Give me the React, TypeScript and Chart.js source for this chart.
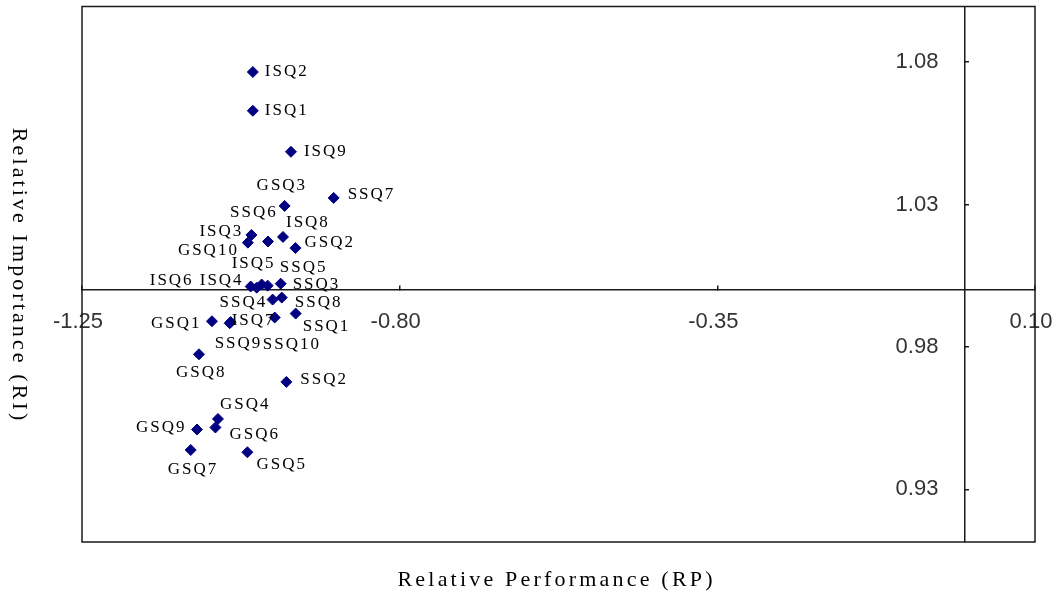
import React, { useEffect, useRef } from "react";
import { Chart, registerables } from "chart.js";

Chart.register(...registerables);

// ---- data ----
const itemLabels = [
  "ISQ1", "ISQ2", "ISQ3", "ISQ4", "ISQ5", "ISQ6", "ISQ7", "ISQ8", "ISQ9",
  "SSQ1", "SSQ2", "SSQ3", "SSQ4", "SSQ5", "SSQ6", "SSQ7", "SSQ8", "SSQ9", "SSQ10",
  "GSQ1", "GSQ2", "GSQ3", "GSQ4", "GSQ5", "GSQ6", "GSQ7", "GSQ8", "GSQ9", "GSQ10",
];

const relativePerformance = [
  -1.008, -1.008, -1.010, -1.0025, -0.9955, -1.011, -1.0408, -0.9653, -0.954,
  -0.9473, -0.9605, -0.987, -0.980, -0.9685, -0.9865, -0.8935, -0.967, -1.0394, -0.977,
  -1.0659, -0.9477, -0.963, -1.0574, -1.0157, -1.061, -1.096, -1.0843, -1.0871, -1.015,
];

const relativeImportance = [
  1.0629, 1.0765, 1.0193, 1.0008, 1.0019, 1.0012, 0.9883, 1.0186, 1.0485,
  0.9917, 0.9677, 1.0015, 0.9966, 1.0022, 1.0170, 1.0323, 0.9973, 0.9887, 0.9903,
  0.9890, 1.0147, 1.0295, 0.9547, 0.9430, 0.9517, 0.9438, 0.9774, 0.9510, 1.0166,
];

const xTickValues = [-1.25, -0.8, -0.35, 0.1];
const yTickValues = [0.93, 0.98, 1.03, 1.08];

const xTitle = "Relative Performance (RP)";
const yTitle = "Relative Importance (RI)";

// ---- presentation: where each point's label sits relative to its marker (px) ----
const labelPlacement: [number, number][] = [
  [12, 0], [12, 0], [-52, -3], [-57, -7], [-30, -21], [-101, -6], [2, -3], [3, -14], [13, 0],
  [7, 13], [14, -2], [25, -1], [-53, 3], [-1, -16], [-38, -29], [14, -3], [13, 5], [-16, 21], [-12, 27],
  [-61, 2], [9, -6], [-28, -20], [2, -14], [9, 12], [14, 7], [-23, 20], [-23, 18], [-61, -2], [-70, 8],
];

const AXIS_COLOR = "#1a1a1a";
const MARKER_COLOR = "#000080";
const TICK_FONT = '22px "Liberation Sans"';

function drawSpacedText(
  ctx: CanvasRenderingContext2D,
  text: string,
  cx: number,
  cy: number,
  spacing: number
) {
  (ctx as any).letterSpacing = spacing + "px";
  const w = ctx.measureText(text).width - spacing;
  ctx.textAlign = "left";
  ctx.textBaseline = "middle";
  ctx.fillText(text, cx - w / 2, cy);
}

export default function App() {
  const ref = useRef<HTMLCanvasElement>(null);

  useEffect(() => {
    const canvas = ref.current;
    if (!canvas) return;

    const points = itemLabels.map((_, i) => ({
      x: relativePerformance[i],
      y: relativeImportance[i],
    }));

    const overlay = {
      id: "overlay",
      afterDatasetsDraw(chart: any) {
        const ctx: CanvasRenderingContext2D = chart.ctx;
        const meta = chart.getDatasetMeta(0);
        ctx.save();
        ctx.font = '17px "Liberation Serif"';
        ctx.fillStyle = "#000";
        ctx.textAlign = "left";
        ctx.textBaseline = "middle";
        (ctx as any).letterSpacing = "2px";
        meta.data.forEach((el: any, i: number) => {
          const [dx, dy] = labelPlacement[i];
          ctx.fillText(itemLabels[i], el.x + dx, el.y + dy);
        });
        ctx.restore();
      },
      afterDraw(chart: any) {
        const ctx: CanvasRenderingContext2D = chart.ctx;
        const a = chart.chartArea;
        const xs = chart.scales.x;
        const ys = chart.scales.y;
        ctx.save();
        ctx.strokeStyle = AXIS_COLOR;
        ctx.lineWidth = 1.5;
        ctx.strokeRect(a.left, a.top, a.right - a.left, a.bottom - a.top);

        // y tick labels, left of the vertical axis that crosses at RP = 0
        const axisX = xs.getPixelForValue(0);
        ctx.font = TICK_FONT;
        ctx.fillStyle = "#333";
        ctx.textAlign = "right";
        ctx.textBaseline = "middle";
        ys.ticks.forEach((t: any) => {
          ctx.fillText(Number(t.value).toFixed(2), axisX - 26, ys.getPixelForValue(t.value));
        });

        ctx.fillStyle = "#000";
        ctx.font = '22px "Liberation Serif"';
        drawSpacedText(ctx, xTitle, 555, 580, 3.2);

        ctx.translate(19, 274);
        ctx.rotate(Math.PI / 2);
        drawSpacedText(ctx, yTitle, 0, 0, 3.1);
        ctx.restore();
      },
    };

    const zeroPadding = (s: any) => {
      s.paddingLeft = 0;
      s.paddingRight = 0;
      s.paddingTop = 0;
      s.paddingBottom = 0;
    };

    const chart = new Chart(canvas, {
      type: "scatter",
      data: {
        datasets: [
          {
            data: points,
            pointStyle: "rectRot",
            pointRadius: 5.5,
            pointHoverRadius: 5.5,
            backgroundColor: MARKER_COLOR,
            borderColor: MARKER_COLOR,
            borderWidth: 1,
          },
        ],
      },
      options: {
        responsive: false,
        animation: false,
        devicePixelRatio: 1,
        events: [],
        layout: { padding: { left: 82, right: 21, top: 5, bottom: 54 } },
        plugins: {
          legend: { display: false },
          tooltip: { enabled: false },
        },
        scales: {
          x: {
            type: "linear",
            position: { y: 1 } as any,
            min: -1.25,
            max: 0.1,
            afterBuildTicks: (s: any) => {
              s.ticks = xTickValues.map((v) => ({ value: v }));
            },
            afterFit: zeroPadding,
            grid: {
              drawOnChartArea: false,
              drawTicks: true,
              tickLength: -5,
              color: AXIS_COLOR,
              lineWidth: 1.5,
            },
            border: { display: true, color: AXIS_COLOR, width: 1.5 },
            ticks: {
              callback: (v: any) => Number(v).toFixed(2),
              font: { family: "Liberation Sans", size: 22, lineHeight: 1.2 },
              color: "#333",
              padding: 24,
              labelOffset: -4,
              maxRotation: 0,
              autoSkip: false,
            },
          },
          y: {
            type: "linear",
            position: { x: 0 } as any,
            min: 0.9115,
            max: 1.0995,
            afterBuildTicks: (s: any) => {
              s.ticks = yTickValues.map((v) => ({ value: v }));
            },
            afterFit: zeroPadding,
            grid: {
              drawOnChartArea: false,
              drawTicks: true,
              tickLength: -5,
              color: AXIS_COLOR,
              lineWidth: 1.5,
            },
            border: { display: true, color: AXIS_COLOR, width: 1.5 },
            ticks: { display: false },
          },
        },
      },
      plugins: [overlay],
    } as any);

    return () => chart.destroy();
  }, []);

  return (
    <canvas
      ref={ref}
      width={1056}
      height={596}
      style={{ position: "fixed", left: 0, top: 0 }}
    />
  );
}
